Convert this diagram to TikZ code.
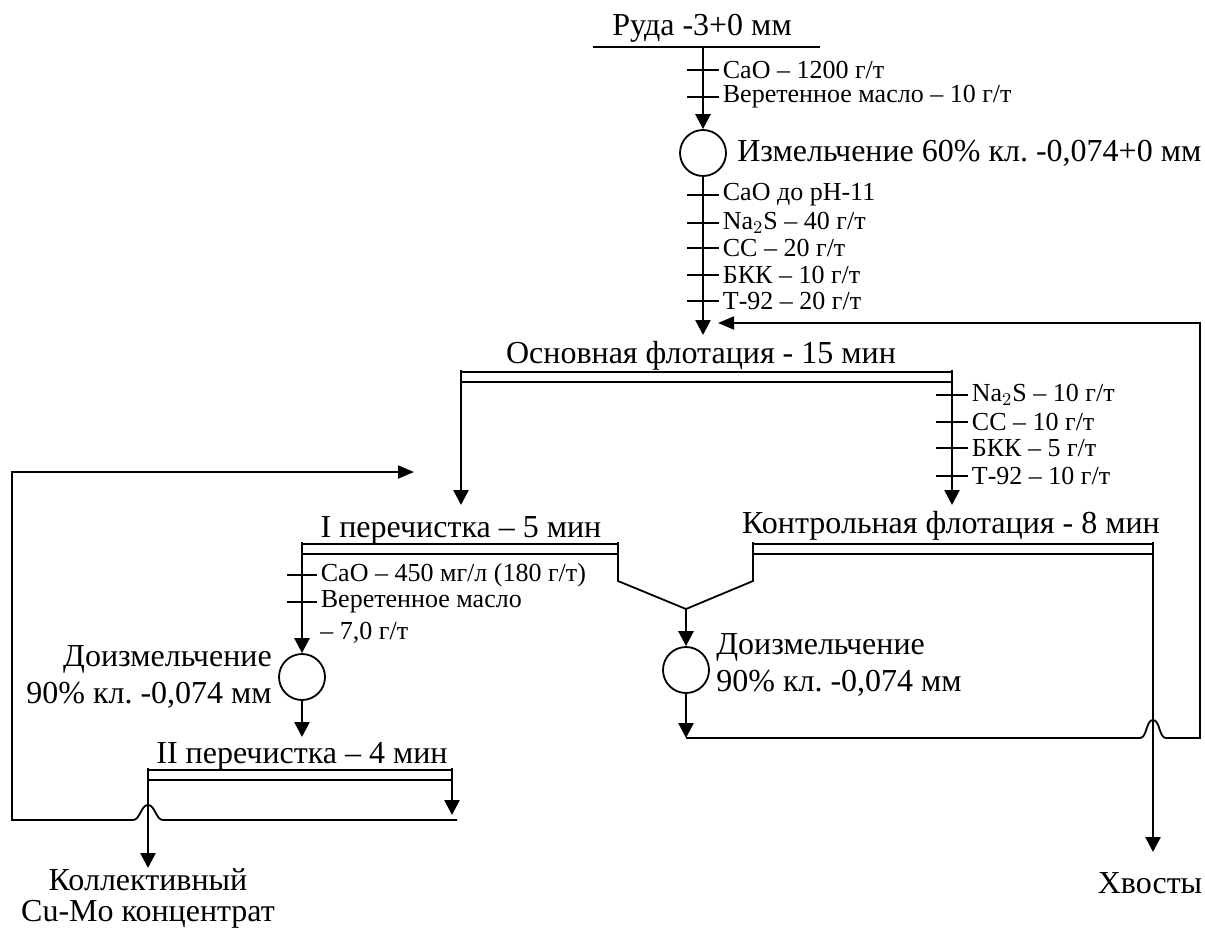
\documentclass[tikz,border=0pt]{standalone}
\usepackage{fontspec}
\setmainfont{Liberation Serif}
\usetikzlibrary{arrows.meta, positioning}
\frenchspacing

\begin{document}
\begin{tikzpicture}[
  x=0.5pt, y=-0.5pt,
  line/.style={line width=0.9pt},
  flow/.style={line width=1.3pt, -{Triangle[length=7.5pt, width=7.5pt]}},
  ret/.style={line width=0.9pt, -{Triangle[length=8pt, width=6.5pt]}},
  bar/.style={line width=0.9pt, double, double distance=4.1pt},
  mill/.style={draw, circle, line width=0.9pt, minimum size=23pt, inner sep=0pt},
  stage/.style={anchor=base, inner sep=0pt, font=\fontsize{16}{18}\selectfont},
  note/.style={inner sep=1pt, font=\fontsize{16}{18.5}\selectfont},
  reag/.style={anchor=west, inner sep=1.5pt, font=\fontsize{13}{15}\selectfont},
]
\useasboundingbox (0,0) rectangle (1205,932);

% ore and grinding
\node[stage] (ore) at (702,35) {Руда -3+0 мм};
\coordinate (feedL) at (593,47);
\coordinate (feedR) at (820,47);
\coordinate (feedM) at (703,47);
\draw[line] (feedL) -- (feedR);
\node[mill] (mill1) at (703,153) {};
\node[note, right=4pt of mill1] (mill1lbl) {Измельчение 60\% кл. -0,074+0 мм};
\draw[flow] (feedM) -- (mill1.north);
\foreach \y/\txt [count=\i] in {70/{CaO – 1200 г/т}, 97/{Веретенное масло – 10 г/т}}
  \draw[line] (687,\y) -- (719,\y) node[reag] (ra\i) {\txt};

% rougher flotation
\node[stage] (rougher) at (701,363) {Основная флотация - 15 мин};
\coordinate (rin) at (703,335);
\draw[flow] (mill1.south) -- (rin);
\foreach \y/\txt [count=\i] in {195/{CaO до pH-11}, 223/{Na$_2$S – 40 г/т}, 248/{СС – 20 г/т}, 275/{БКК – 10 г/т}, 301/{Т-92 – 20 г/т}}
  \draw[line] (687,\y) -- (719,\y) node[reag] (rb\i) {\txt};
\coordinate (roL) at (461,370);
\coordinate (roR) at (952,370);
\draw[bar] ([yshift=-3.5pt]roL) -- ([yshift=-3.5pt]roR);
\coordinate (c1in) at (461,505);
\coordinate (scin) at (952,505);
\draw[flow] (roL) -- (c1in);
\draw[flow] (roR) -- (scin);
\foreach \y/\txt [count=\i] in {395/{Na$_2$S – 10 г/т}, 422/{СС – 10 г/т}, 448/{БКК – 5 г/т}, 476/{Т-92 – 10 г/т}}
  \draw[line] (936,\y) -- (968,\y) node[reag] (rc\i) {\txt};

% first cleaner and regrinding
\node[stage] (clean1) at (461,537) {I перечистка – 5 мин};
\coordinate (c1L) at (302,542);
\coordinate (c1R) at (618,542);
\draw[bar] ([yshift=-3.5pt]c1L) -- ([yshift=-3.5pt]c1R);
\node[mill] (mill2) at (302,677) {};
\node[note, left=2pt of mill2, align=right] (mill2lbl) {Доизмельчение\\90\% кл. -0,074 мм};
\draw[flow] (c1L) -- (mill2.north);
\foreach \y/\txt [count=\i] in {575/{CaO – 450 мг/л (180 г/т)}, 602/{Веретенное масло}}
  \draw[line] (287,\y) -- (317,\y) node[reag] (rd\i) {\txt};
\node[reag] (rd3) at (317,633) {– 7,0 г/т};

% second cleaner
\node[stage] (clean2) at (302,763) {II перечистка – 4 мин};
\coordinate (c2in) at (302,737);
\draw[flow] (mill2.south) -- (c2in);
\coordinate (c2L) at (148,768);
\coordinate (c2R) at (452,768);
\draw[bar] ([yshift=-3.5pt]c2L) -- ([yshift=-3.5pt]c2R);
\node[stage, anchor=north, align=center, font=\fontsize{16}{15.5}\selectfont] (conc) at (148,868) {Коллективный\\Cu-Mo концентрат};
\draw[flow] (c2L) -- (conc.north);
\coordinate (c2tail) at (452,815);
\draw[flow] (c2R) -- (c2tail);
\coordinate (c2ret) at (457,820);
\coordinate (ret1) at (414,472);
\draw[ret] (c2ret) -- (163,820) .. controls (156,820) and (155,805) .. (148,805)
  .. controls (141,805) and (140,820) .. (133,820) -- (12,820) -- (12,472) -- (ret1);

% scavenger and middlings regrinding
\node[stage] (scav) at (951,533) {Контрольная флотация - 8 мин};
\coordinate (scL) at (753,542);
\coordinate (scR) at (1153,542);
\draw[bar] ([yshift=-3.5pt]scL) -- ([yshift=-3.5pt]scR);
\coordinate (c1m) at (618,581);
\coordinate (scm) at (753,581);
\coordinate (merge) at (686,609);
\draw[line] (c1R) -- (c1m) -- (merge) -- (scm) -- (scL);
\node[mill] (mill3) at (686,670) {};
\node[note, anchor=west, align=left] (mill3lbl) at (714,665) {Доизмельчение\\90\% кл. -0,074 мм};
\draw[flow] (merge) -- (mill3.north);
\coordinate (gout) at (686,738);
\draw[flow] (mill3.south) -- (gout);
\coordinate (rin2) at (718,323);
\draw[ret] (gout) -- (1140,738) .. controls (1147,738) and (1146,720) .. (1153,720)
  .. controls (1160,720) and (1159,738) .. (1166,738) -- (1200,738) -- (1200,323) -- (rin2);

% tailings
\node[stage] (tails) at (1150,893) {Хвосты};
\coordinate (tin) at (1153,852);
\draw[flow] (scR) -- (tin);
\end{tikzpicture}
\end{document}
